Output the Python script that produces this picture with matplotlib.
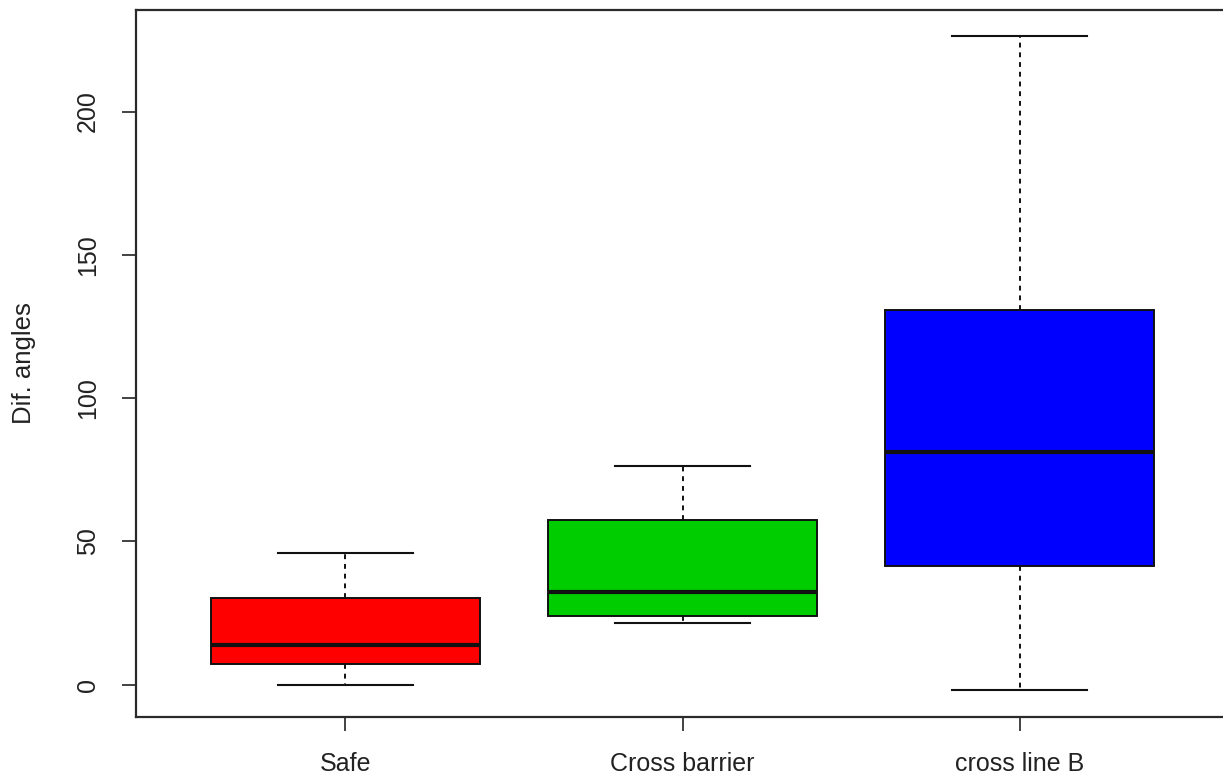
import matplotlib
matplotlib.use("Agg")
import matplotlib.pyplot as plt

# Group summaries (five-number summaries per group)
categories = ["Safe", "Cross barrier", "cross line B"]
whisker_low = [0.0, 21.5, -2.0]
q1 = [7.2, 24.0, 41.4]
median = [13.9, 32.2, 81.2]
q3 = [30.1, 57.3, 130.8]
whisker_high = [46.0, 76.3, 226.3]
box_colors = ["#FF0000", "#00CD00", "#0000FF"]
y_ticks = [0, 50, 100, 150, 200]
y_label = "Dif. angles"

plt.rcParams["font.family"] = ["Liberation Sans", "DejaVu Sans"]

fig = plt.figure(figsize=(12.23, 7.80), dpi=100)
ax = fig.add_axes([0.1116, 0.0814, 0.893, 0.9058])

stats = []
for i, name in enumerate(categories):
    stats.append(dict(label=name, whislo=whisker_low[i], q1=q1[i], med=median[i],
                      q3=q3[i], whishi=whisker_high[i], fliers=[]))

positions = list(range(1, len(categories) + 1))
bp = ax.bxp(stats, positions=positions, widths=0.8, patch_artist=True,
            showfliers=False, capwidths=0.4,
            boxprops=dict(edgecolor="#111111", linewidth=1.4),
            medianprops=dict(color="#111111", linewidth=3.0, solid_capstyle="butt"),
            whiskerprops=dict(color="#111111", linewidth=1.4, linestyle=(0, (2.5, 2.5))),
            capprops=dict(color="#111111", linewidth=1.5))
for patch, c in zip(bp["boxes"], box_colors):
    patch.set_facecolor(c)

# Axis extents: 4% padding around the data range
lo, hi = min(whisker_low), max(whisker_high)
pad = 0.04 * (hi - lo)
ax.set_ylim(lo - pad, hi + pad)
ax.set_xlim(0.5 - 0.12, len(categories) + 0.5 + 0.12)

ax.set_yticks(y_ticks)
ax.set_yticklabels([str(v) for v in y_ticks], rotation=90, va="center", fontsize=18, color="#222222")
ax.set_xticks(positions)
ax.set_xticklabels(categories, fontsize=18, color="#222222")
ax.tick_params(axis="y", direction="out", length=10.4, width=1.2, pad=16, color="#222222")
ax.tick_params(axis="x", direction="out", length=10.4, width=1.2, pad=15, color="#222222")

for s in ax.spines.values():
    s.set_linewidth(1.6)
    s.set_color("#2a2a2a")

ax.set_ylabel(y_label, fontsize=18.5, color="#222222")
ax.yaxis.set_label_coords(-0.092, 0.5)

fig.savefig("out.png", dpi=100)
